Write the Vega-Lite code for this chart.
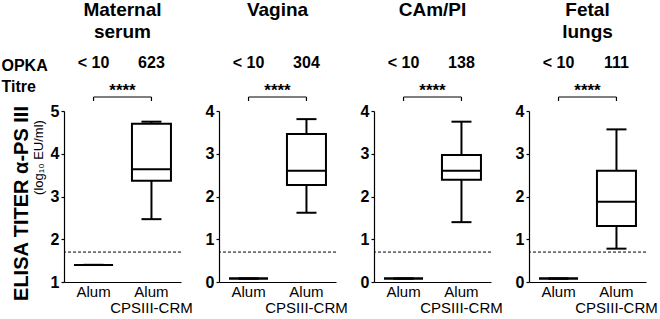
{
  "$schema": "https://vega.github.io/schema/vega-lite/v6.json",
  "padding": {"left": 1, "top": 1, "right": 0, "bottom": 0},
  "background": "white",
  "datasets": {
    "boxes": [
      {"panel": "Maternal serum", "group": "Alum", "lower": 1.4, "q1": 1.4, "median": 1.4, "q3": 1.4, "upper": 1.4},
      {"panel": "Maternal serum", "group": "Alum CPSIII-CRM", "lower": 2.47, "q1": 3.37, "median": 3.64, "q3": 4.70, "upper": 4.75},
      {"panel": "Vagina", "group": "Alum", "lower": 0.08, "q1": 0.08, "median": 0.08, "q3": 0.08, "upper": 0.08},
      {"panel": "Vagina", "group": "Alum CPSIII-CRM", "lower": 1.62, "q1": 2.27, "median": 2.60, "q3": 3.46, "upper": 3.81},
      {"panel": "CAm/PI", "group": "Alum", "lower": 0.08, "q1": 0.08, "median": 0.08, "q3": 0.08, "upper": 0.08},
      {"panel": "CAm/PI", "group": "Alum CPSIII-CRM", "lower": 1.40, "q1": 2.39, "median": 2.60, "q3": 2.97, "upper": 3.75},
      {"panel": "Fetal lungs", "group": "Alum", "lower": 0.08, "q1": 0.08, "median": 0.08, "q3": 0.08, "upper": 0.08},
      {"panel": "Fetal lungs", "group": "Alum CPSIII-CRM", "lower": 0.78, "q1": 1.31, "median": 1.88, "q3": 2.60, "upper": 3.57}
    ],
    "thresholds": [
      {"panel": "Maternal serum", "cutoff": 1.70},
      {"panel": "Vagina", "cutoff": 0.70},
      {"panel": "CAm/PI", "cutoff": 0.70},
      {"panel": "Fetal lungs", "cutoff": 0.70}
    ],
    "opka": [
      {"panel": "Maternal serum", "group": "Alum", "titre": "< 10"},
      {"panel": "Maternal serum", "group": "Alum CPSIII-CRM", "titre": "623"},
      {"panel": "Vagina", "group": "Alum", "titre": "< 10"},
      {"panel": "Vagina", "group": "Alum CPSIII-CRM", "titre": "304"},
      {"panel": "CAm/PI", "group": "Alum", "titre": "< 10"},
      {"panel": "CAm/PI", "group": "Alum CPSIII-CRM", "titre": "138"},
      {"panel": "Fetal lungs", "group": "Alum", "titre": "< 10"},
      {"panel": "Fetal lungs", "group": "Alum CPSIII-CRM", "titre": "111"}
    ],
    "tests": [
      {"panel": "Maternal serum", "from": "Alum", "to": "Alum CPSIII-CRM", "stars": "****"},
      {"panel": "Vagina", "from": "Alum", "to": "Alum CPSIII-CRM", "stars": "****"},
      {"panel": "CAm/PI", "from": "Alum", "to": "Alum CPSIII-CRM", "stars": "****"},
      {"panel": "Fetal lungs", "from": "Alum", "to": "Alum CPSIII-CRM", "stars": "****"}
    ]
  },
  "columns": 4,
  "spacing": {"row": 4, "column": 38},
  "bounds": "flush",
  "concat": [
    {
      "width": 117, "height": 50,
      "title": {"text": ["Maternal", "serum"]},
      "layer": [
        {"data": {"name": "opka"}, "transform": [{"filter": "datum.panel === 'Maternal serum'"}],
         "mark": {"type": "text", "fontSize": 16, "fontWeight": "bold", "baseline": "middle", "color": "black"},
         "encoding": {"x": {"field": "group", "type": "nominal", "scale": {"domain": ["Alum", "Alum CPSIII-CRM"], "paddingInner": 0.3, "paddingOuter": 0.16}, "axis": null},
                      "y": {"datum": 44, "type": "quantitative", "scale": {"domain": [0, 50]},
                            "axis": {"title": ["OPKA", "Titre"], "labels": false, "ticks": false, "domain": false, "titleAngle": 0, "titleAlign": "left", "titleBaseline": "top", "titleX": -63, "titleY": 0, "titleFontSize": 16, "titleFontWeight": "bold", "titleLineHeight": 21, "titleLimit": 200}},
                      "text": {"field": "titre"}}},
        {"data": {"name": "opka"}, "transform": [{"filter": "datum.panel === 'Maternal serum'"}],
         "mark": {"type": "rule", "strokeWidth": 1.2, "color": "black"},
         "encoding": {"x": {"field": "group", "type": "nominal", "axis": null},
                      "y": {"datum": 10, "type": "quantitative",
                            "axis": {"title": ["OPKA", "Titre"], "labels": false, "ticks": false, "domain": false, "titleAngle": 0, "titleAlign": "left", "titleBaseline": "top", "titleX": -63, "titleY": 0, "titleFontSize": 16, "titleFontWeight": "bold", "titleLineHeight": 21, "titleLimit": 200}},
                      "y2": {"datum": 6}}},
        {"data": {"name": "tests"}, "transform": [{"filter": "datum.panel === 'Maternal serum'"}],
         "mark": {"type": "rule", "strokeWidth": 1.2, "color": "black"},
         "encoding": {"x": {"field": "from", "type": "nominal", "axis": null}, "x2": {"field": "to"},
                      "y": {"datum": 10, "type": "quantitative",
                            "axis": {"title": ["OPKA", "Titre"], "labels": false, "ticks": false, "domain": false, "titleAngle": 0, "titleAlign": "left", "titleBaseline": "top", "titleX": -63, "titleY": 0, "titleFontSize": 16, "titleFontWeight": "bold", "titleLineHeight": 21, "titleLimit": 200}}}},
        {"data": {"name": "tests"}, "transform": [{"filter": "datum.panel === 'Maternal serum'"}],
         "mark": {"type": "text", "fontSize": 17, "fontWeight": "bold", "baseline": "middle", "color": "black"},
         "encoding": {"y": {"datum": 16, "type": "quantitative",
                            "axis": {"title": ["OPKA", "Titre"], "labels": false, "ticks": false, "domain": false, "titleAngle": 0, "titleAlign": "left", "titleBaseline": "top", "titleX": -63, "titleY": 0, "titleFontSize": 16, "titleFontWeight": "bold", "titleLineHeight": 21, "titleLimit": 200}},
                      "text": {"field": "stars"}}}
      ]
    },
    {
      "width": 117, "height": 50,
      "title": {"text": ["Vagina", ""]},
      "layer": [
        {"data": {"name": "opka"}, "transform": [{"filter": "datum.panel === 'Vagina'"}],
         "mark": {"type": "text", "fontSize": 16, "fontWeight": "bold", "baseline": "middle", "color": "black"},
         "encoding": {"x": {"field": "group", "type": "nominal", "scale": {"domain": ["Alum", "Alum CPSIII-CRM"], "paddingInner": 0.3, "paddingOuter": 0.16}, "axis": null},
                      "y": {"datum": 44, "type": "quantitative", "scale": {"domain": [0, 50]}, "axis": null},
                      "text": {"field": "titre"}}},
        {"data": {"name": "opka"}, "transform": [{"filter": "datum.panel === 'Vagina'"}],
         "mark": {"type": "rule", "strokeWidth": 1.2, "color": "black"},
         "encoding": {"x": {"field": "group", "type": "nominal", "axis": null},
                      "y": {"datum": 10, "type": "quantitative", "axis": null}, "y2": {"datum": 6}}},
        {"data": {"name": "tests"}, "transform": [{"filter": "datum.panel === 'Vagina'"}],
         "mark": {"type": "rule", "strokeWidth": 1.2, "color": "black"},
         "encoding": {"x": {"field": "from", "type": "nominal", "axis": null}, "x2": {"field": "to"},
                      "y": {"datum": 10, "type": "quantitative", "axis": null}}},
        {"data": {"name": "tests"}, "transform": [{"filter": "datum.panel === 'Vagina'"}],
         "mark": {"type": "text", "fontSize": 17, "fontWeight": "bold", "baseline": "middle", "color": "black"},
         "encoding": {"y": {"datum": 16, "type": "quantitative", "axis": null}, "text": {"field": "stars"}}}
      ]
    },
    {
      "width": 117, "height": 50,
      "title": {"text": ["CAm/PI", ""]},
      "layer": [
        {"data": {"name": "opka"}, "transform": [{"filter": "datum.panel === 'CAm/PI'"}],
         "mark": {"type": "text", "fontSize": 16, "fontWeight": "bold", "baseline": "middle", "color": "black"},
         "encoding": {"x": {"field": "group", "type": "nominal", "scale": {"domain": ["Alum", "Alum CPSIII-CRM"], "paddingInner": 0.3, "paddingOuter": 0.16}, "axis": null},
                      "y": {"datum": 44, "type": "quantitative", "scale": {"domain": [0, 50]}, "axis": null},
                      "text": {"field": "titre"}}},
        {"data": {"name": "opka"}, "transform": [{"filter": "datum.panel === 'CAm/PI'"}],
         "mark": {"type": "rule", "strokeWidth": 1.2, "color": "black"},
         "encoding": {"x": {"field": "group", "type": "nominal", "axis": null},
                      "y": {"datum": 10, "type": "quantitative", "axis": null}, "y2": {"datum": 6}}},
        {"data": {"name": "tests"}, "transform": [{"filter": "datum.panel === 'CAm/PI'"}],
         "mark": {"type": "rule", "strokeWidth": 1.2, "color": "black"},
         "encoding": {"x": {"field": "from", "type": "nominal", "axis": null}, "x2": {"field": "to"},
                      "y": {"datum": 10, "type": "quantitative", "axis": null}}},
        {"data": {"name": "tests"}, "transform": [{"filter": "datum.panel === 'CAm/PI'"}],
         "mark": {"type": "text", "fontSize": 17, "fontWeight": "bold", "baseline": "middle", "color": "black"},
         "encoding": {"y": {"datum": 16, "type": "quantitative", "axis": null}, "text": {"field": "stars"}}}
      ]
    },
    {
      "width": 117, "height": 50,
      "title": {"text": ["Fetal", "lungs"]},
      "layer": [
        {"data": {"name": "opka"}, "transform": [{"filter": "datum.panel === 'Fetal lungs'"}],
         "mark": {"type": "text", "fontSize": 16, "fontWeight": "bold", "baseline": "middle", "color": "black"},
         "encoding": {"x": {"field": "group", "type": "nominal", "scale": {"domain": ["Alum", "Alum CPSIII-CRM"], "paddingInner": 0.3, "paddingOuter": 0.16}, "axis": null},
                      "y": {"datum": 44, "type": "quantitative", "scale": {"domain": [0, 50]}, "axis": null},
                      "text": {"field": "titre"}}},
        {"data": {"name": "opka"}, "transform": [{"filter": "datum.panel === 'Fetal lungs'"}],
         "mark": {"type": "rule", "strokeWidth": 1.2, "color": "black"},
         "encoding": {"x": {"field": "group", "type": "nominal", "axis": null},
                      "y": {"datum": 10, "type": "quantitative", "axis": null}, "y2": {"datum": 6}}},
        {"data": {"name": "tests"}, "transform": [{"filter": "datum.panel === 'Fetal lungs'"}],
         "mark": {"type": "rule", "strokeWidth": 1.2, "color": "black"},
         "encoding": {"x": {"field": "from", "type": "nominal", "axis": null}, "x2": {"field": "to"},
                      "y": {"datum": 10, "type": "quantitative", "axis": null}}},
        {"data": {"name": "tests"}, "transform": [{"filter": "datum.panel === 'Fetal lungs'"}],
         "mark": {"type": "text", "fontSize": 17, "fontWeight": "bold", "baseline": "middle", "color": "black"},
         "encoding": {"y": {"datum": 16, "type": "quantitative", "axis": null}, "text": {"field": "stars"}}}
      ]
    },
    {
      "width": 117, "height": 171,
      "layer": [
        {
          "data": {"name": "boxes"}, "transform": [{"filter": "datum.panel === 'Maternal serum'"}],
          "layer": [
            {"mark": {"type": "rule", "strokeWidth": 2, "color": "black"},
             "encoding": {"x": {"field": "group", "type": "nominal", "scale": {"domain": ["Alum", "Alum CPSIII-CRM"], "paddingInner": 0.3, "paddingOuter": 0.16},
                                "axis": {"title": null, "labelExpr": "datum.value == 'Alum' ? 'Alum' : ['Alum', 'CPSIII-CRM']"}},
                          "y": {"field": "lower", "type": "quantitative", "scale": {"domain": [1, 5]},
                                "axis": {"values": [1, 2, 3, 4, 5], "title": "ELISA TITER α-PS III", "titleFontSize": 20, "titleFontWeight": "bold", "titlePadding": 19, "titleY": 92}},
                          "y2": {"field": "upper"}}},
            {"mark": {"type": "bar", "size": 39, "fill": "white", "stroke": "black", "strokeWidth": 2},
             "encoding": {"x": {"field": "group", "type": "nominal"},
                          "y": {"field": "q1", "type": "quantitative", "axis": {"values": [1, 2, 3, 4, 5], "title": "ELISA TITER α-PS III", "titleFontSize": 20, "titleFontWeight": "bold", "titlePadding": 19, "titleY": 92}},
                          "y2": {"field": "q3"}}},
            {"mark": {"type": "tick", "size": 39, "thickness": 2, "color": "black", "opacity": 1},
             "encoding": {"x": {"field": "group", "type": "nominal"},
                          "y": {"field": "median", "type": "quantitative", "axis": {"values": [1, 2, 3, 4, 5], "title": "ELISA TITER α-PS III", "titleFontSize": 20, "titleFontWeight": "bold", "titlePadding": 19, "titleY": 92}}}},
            {"mark": {"type": "tick", "size": 20, "thickness": 2, "color": "black", "opacity": 1},
             "encoding": {"x": {"field": "group", "type": "nominal"},
                          "y": {"field": "lower", "type": "quantitative", "axis": {"values": [1, 2, 3, 4, 5], "title": "ELISA TITER α-PS III", "titleFontSize": 20, "titleFontWeight": "bold", "titlePadding": 19, "titleY": 92}}}},
            {"mark": {"type": "tick", "size": 20, "thickness": 2, "color": "black", "opacity": 1},
             "encoding": {"x": {"field": "group", "type": "nominal"},
                          "y": {"field": "upper", "type": "quantitative", "axis": {"values": [1, 2, 3, 4, 5], "title": "ELISA TITER α-PS III", "titleFontSize": 20, "titleFontWeight": "bold", "titlePadding": 19, "titleY": 92}}}}
          ]
        },
        {"data": {"name": "thresholds"}, "transform": [{"filter": "datum.panel === 'Maternal serum'"}],
         "mark": {"type": "rule", "strokeDash": [3, 2], "strokeWidth": 1, "color": "black"},
         "encoding": {"y": {"field": "cutoff", "type": "quantitative", "scale": {"domain": [1, 5]},
                            "axis": {"orient": "left", "title": "(log₁₀ EU/ml)", "labels": false, "ticks": false, "domain": false, "titleFontSize": 13, "titleFontWeight": "normal", "titlePadding": 19, "titleY": 46}}}}
      ],
      "resolve": {"axis": {"y": "independent"}}
    },
    {
      "width": 117, "height": 171,
      "data": {"name": "boxes"}, "transform": [{"filter": "datum.panel === 'Vagina'"}],
      "layer": [
        {"mark": {"type": "rule", "strokeWidth": 2, "color": "black"},
         "encoding": {"x": {"field": "group", "type": "nominal", "scale": {"domain": ["Alum", "Alum CPSIII-CRM"], "paddingInner": 0.3, "paddingOuter": 0.16},
                            "axis": {"title": null, "labelExpr": "datum.value == 'Alum' ? 'Alum' : ['Alum', 'CPSIII-CRM']"}},
                      "y": {"field": "lower", "type": "quantitative", "scale": {"domain": [0, 4]}, "axis": {"values": [0, 1, 2, 3, 4], "title": null}},
                      "y2": {"field": "upper"}}},
        {"mark": {"type": "bar", "size": 39, "fill": "white", "stroke": "black", "strokeWidth": 2},
         "encoding": {"x": {"field": "group", "type": "nominal"}, "y": {"field": "q1", "type": "quantitative", "axis": {"values": [0, 1, 2, 3, 4], "title": null}}, "y2": {"field": "q3"}}},
        {"mark": {"type": "tick", "size": 39, "thickness": 2, "color": "black", "opacity": 1},
         "encoding": {"x": {"field": "group", "type": "nominal"}, "y": {"field": "median", "type": "quantitative", "axis": {"values": [0, 1, 2, 3, 4], "title": null}}}},
        {"mark": {"type": "tick", "size": 20, "thickness": 2, "color": "black", "opacity": 1},
         "encoding": {"x": {"field": "group", "type": "nominal"}, "y": {"field": "lower", "type": "quantitative", "axis": {"values": [0, 1, 2, 3, 4], "title": null}}}},
        {"mark": {"type": "tick", "size": 20, "thickness": 2, "color": "black", "opacity": 1},
         "encoding": {"x": {"field": "group", "type": "nominal"}, "y": {"field": "upper", "type": "quantitative", "axis": {"values": [0, 1, 2, 3, 4], "title": null}}}},
        {"data": {"name": "thresholds"}, "transform": [{"filter": "datum.panel === 'Vagina'"}],
         "mark": {"type": "rule", "strokeDash": [3, 2], "strokeWidth": 1, "color": "black"},
         "encoding": {"y": {"field": "cutoff", "type": "quantitative", "axis": {"values": [0, 1, 2, 3, 4], "title": null}}}}
      ]
    },
    {
      "width": 117, "height": 171,
      "data": {"name": "boxes"}, "transform": [{"filter": "datum.panel === 'CAm/PI'"}],
      "layer": [
        {"mark": {"type": "rule", "strokeWidth": 2, "color": "black"},
         "encoding": {"x": {"field": "group", "type": "nominal", "scale": {"domain": ["Alum", "Alum CPSIII-CRM"], "paddingInner": 0.3, "paddingOuter": 0.16},
                            "axis": {"title": null, "labelExpr": "datum.value == 'Alum' ? 'Alum' : ['Alum', 'CPSIII-CRM']"}},
                      "y": {"field": "lower", "type": "quantitative", "scale": {"domain": [0, 4]}, "axis": {"values": [0, 1, 2, 3, 4], "title": null}},
                      "y2": {"field": "upper"}}},
        {"mark": {"type": "bar", "size": 39, "fill": "white", "stroke": "black", "strokeWidth": 2},
         "encoding": {"x": {"field": "group", "type": "nominal"}, "y": {"field": "q1", "type": "quantitative", "axis": {"values": [0, 1, 2, 3, 4], "title": null}}, "y2": {"field": "q3"}}},
        {"mark": {"type": "tick", "size": 39, "thickness": 2, "color": "black", "opacity": 1},
         "encoding": {"x": {"field": "group", "type": "nominal"}, "y": {"field": "median", "type": "quantitative", "axis": {"values": [0, 1, 2, 3, 4], "title": null}}}},
        {"mark": {"type": "tick", "size": 20, "thickness": 2, "color": "black", "opacity": 1},
         "encoding": {"x": {"field": "group", "type": "nominal"}, "y": {"field": "lower", "type": "quantitative", "axis": {"values": [0, 1, 2, 3, 4], "title": null}}}},
        {"mark": {"type": "tick", "size": 20, "thickness": 2, "color": "black", "opacity": 1},
         "encoding": {"x": {"field": "group", "type": "nominal"}, "y": {"field": "upper", "type": "quantitative", "axis": {"values": [0, 1, 2, 3, 4], "title": null}}}},
        {"data": {"name": "thresholds"}, "transform": [{"filter": "datum.panel === 'CAm/PI'"}],
         "mark": {"type": "rule", "strokeDash": [3, 2], "strokeWidth": 1, "color": "black"},
         "encoding": {"y": {"field": "cutoff", "type": "quantitative", "axis": {"values": [0, 1, 2, 3, 4], "title": null}}}}
      ]
    },
    {
      "width": 117, "height": 171,
      "data": {"name": "boxes"}, "transform": [{"filter": "datum.panel === 'Fetal lungs'"}],
      "layer": [
        {"mark": {"type": "rule", "strokeWidth": 2, "color": "black"},
         "encoding": {"x": {"field": "group", "type": "nominal", "scale": {"domain": ["Alum", "Alum CPSIII-CRM"], "paddingInner": 0.3, "paddingOuter": 0.16},
                            "axis": {"title": null, "labelExpr": "datum.value == 'Alum' ? 'Alum' : ['Alum', 'CPSIII-CRM']"}},
                      "y": {"field": "lower", "type": "quantitative", "scale": {"domain": [0, 4]}, "axis": {"values": [0, 1, 2, 3, 4], "title": null}},
                      "y2": {"field": "upper"}}},
        {"mark": {"type": "bar", "size": 39, "fill": "white", "stroke": "black", "strokeWidth": 2},
         "encoding": {"x": {"field": "group", "type": "nominal"}, "y": {"field": "q1", "type": "quantitative", "axis": {"values": [0, 1, 2, 3, 4], "title": null}}, "y2": {"field": "q3"}}},
        {"mark": {"type": "tick", "size": 39, "thickness": 2, "color": "black", "opacity": 1},
         "encoding": {"x": {"field": "group", "type": "nominal"}, "y": {"field": "median", "type": "quantitative", "axis": {"values": [0, 1, 2, 3, 4], "title": null}}}},
        {"mark": {"type": "tick", "size": 20, "thickness": 2, "color": "black", "opacity": 1},
         "encoding": {"x": {"field": "group", "type": "nominal"}, "y": {"field": "lower", "type": "quantitative", "axis": {"values": [0, 1, 2, 3, 4], "title": null}}}},
        {"mark": {"type": "tick", "size": 20, "thickness": 2, "color": "black", "opacity": 1},
         "encoding": {"x": {"field": "group", "type": "nominal"}, "y": {"field": "upper", "type": "quantitative", "axis": {"values": [0, 1, 2, 3, 4], "title": null}}}},
        {"data": {"name": "thresholds"}, "transform": [{"filter": "datum.panel === 'Fetal lungs'"}],
         "mark": {"type": "rule", "strokeDash": [3, 2], "strokeWidth": 1, "color": "black"},
         "encoding": {"y": {"field": "cutoff", "type": "quantitative", "axis": {"values": [0, 1, 2, 3, 4], "title": null}}}}
      ]
    }
  ],
  "config": {
    "font": "Liberation Sans",
    "view": {"stroke": null},
    "axis": {"grid": false, "domainColor": "black", "domainWidth": 1.2, "tickColor": "black", "tickWidth": 1.2, "labelColor": "black", "titleColor": "black"},
    "axisY": {"labelFontSize": 16, "labelFontWeight": "bold", "tickSize": 3, "labelPadding": 2},
    "axisX": {"labelFontSize": 15, "ticks": false, "labelPadding": 2, "labelLineHeight": 16, "labelAngle": 0},
    "title": {"fontSize": 19, "fontWeight": "bold", "color": "black", "lineHeight": 22, "offset": 13, "anchor": "middle"}
  }
}
